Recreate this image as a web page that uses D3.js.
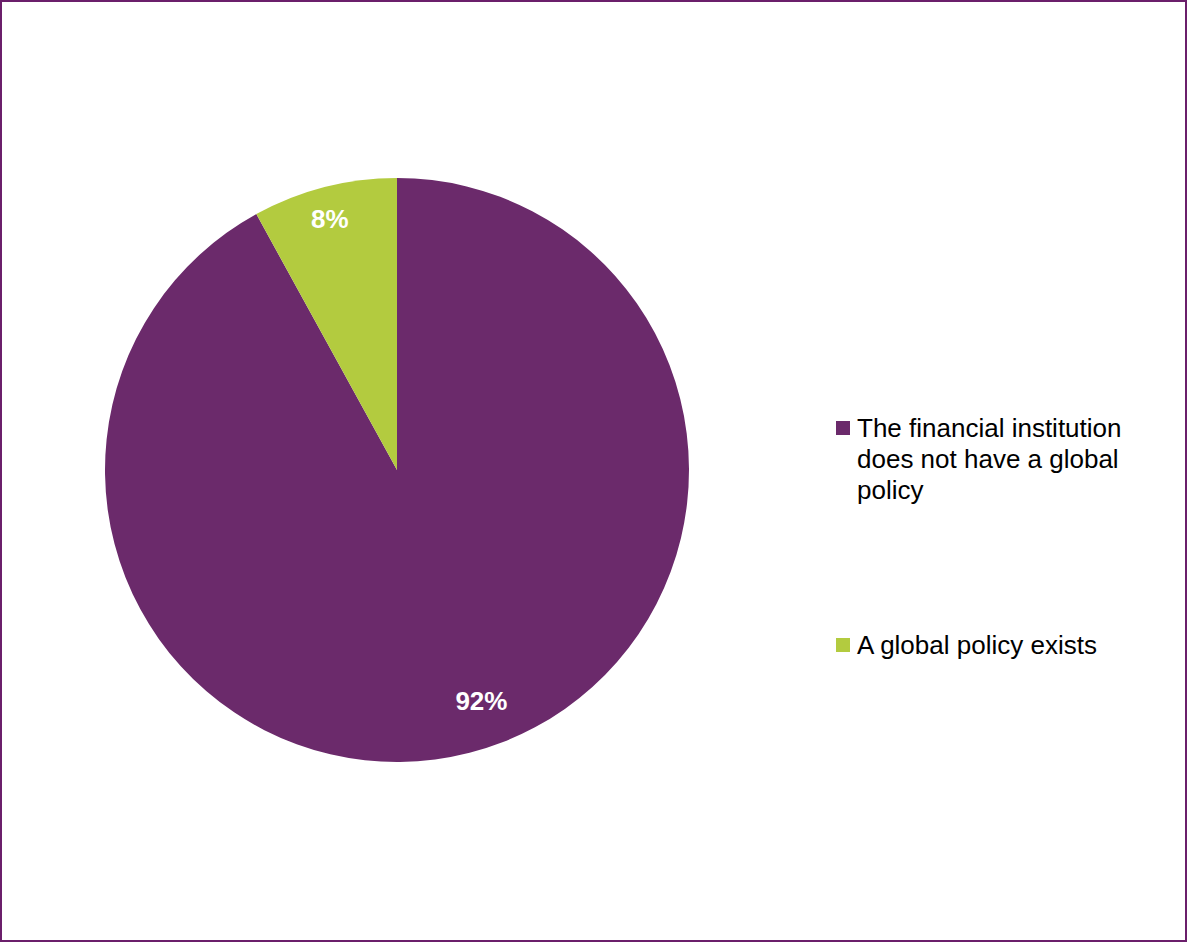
<!DOCTYPE html>
<html>
<head>
<meta charset="utf-8">
<script src="https://cdn.jsdelivr.net/npm/d3@7"></script>
<style>
  html, body { margin: 0; padding: 0; background: #fff; }
  svg { display: block; font-family: "Liberation Sans", Arial, sans-serif; }
</style>
</head>
<body>
<script>
// Survey result: share of financial institutions with a global policy
const categories = [
  "The financial institution does not have a global policy",
  "A global policy exists"
];
const legendLines = [
  ["The financial institution", "does not have a global", "policy"],
  ["A global policy exists"]
];
const values = [92, 8];
const colors = ["#6B2A6B", "#B3CB3F"];

const W = 1188, H = 944;
const svg = d3.select("body").append("svg").attr("width", W).attr("height", H);

// outer frame
svg.append("rect")
  .attr("x", 1).attr("y", 1).attr("width", W - 3).attr("height", H - 4)
  .attr("fill", "#fff").attr("stroke", "#6B1F6B").attr("stroke-width", 2);

const cx = 397, cy = 470, r = 292;
const g = svg.append("g").attr("transform", `translate(${cx},${cy})`);

const pie = d3.pie().sort(null).value(d => d)(values);
const arc = d3.arc().innerRadius(0).outerRadius(r);

g.selectAll("path.slice").data(pie).join("path")
  .attr("class", "slice")
  .attr("d", arc)
  .attr("fill", (d, i) => colors[i]);

// data labels: placed inside each slice near the rim (best-fit style)
const labelRadius = [0.84, 0.89];
const labelAngleShift = [-0.1, -0.01];
g.selectAll("text.lbl").data(pie).join("text")
  .attr("class", "lbl")
  .attr("transform", (d, i) => {
    const a = (d.startAngle + d.endAngle) / 2 + labelAngleShift[i];
    const rr = r * labelRadius[i];
    return `translate(${Math.sin(a) * rr},${-Math.cos(a) * rr})`;
  })
  .attr("text-anchor", "middle")
  .attr("dy", "0.36em")
  .attr("fill", "#fff")
  .attr("font-weight", "bold")
  .attr("font-size", 26)
  .text(d => d.data + "%");

// legend
const legendY = [428, 645];
const lg = svg.append("g");
categories.forEach((c, i) => {
  const item = lg.append("g").attr("transform", `translate(836,${legendY[i]})`);
  item.append("rect").attr("x", 0).attr("y", -7).attr("width", 14).attr("height", 14).attr("fill", colors[i]);
  const t = item.append("text").attr("font-size", 26).attr("fill", "#000");
  legendLines[i].forEach((ln, j) => {
    t.append("tspan").attr("x", 21).attr("y", j === 0 ? 9 : 9 + j * 31).text(ln);
  });
});
</script>
</body>
</html>
